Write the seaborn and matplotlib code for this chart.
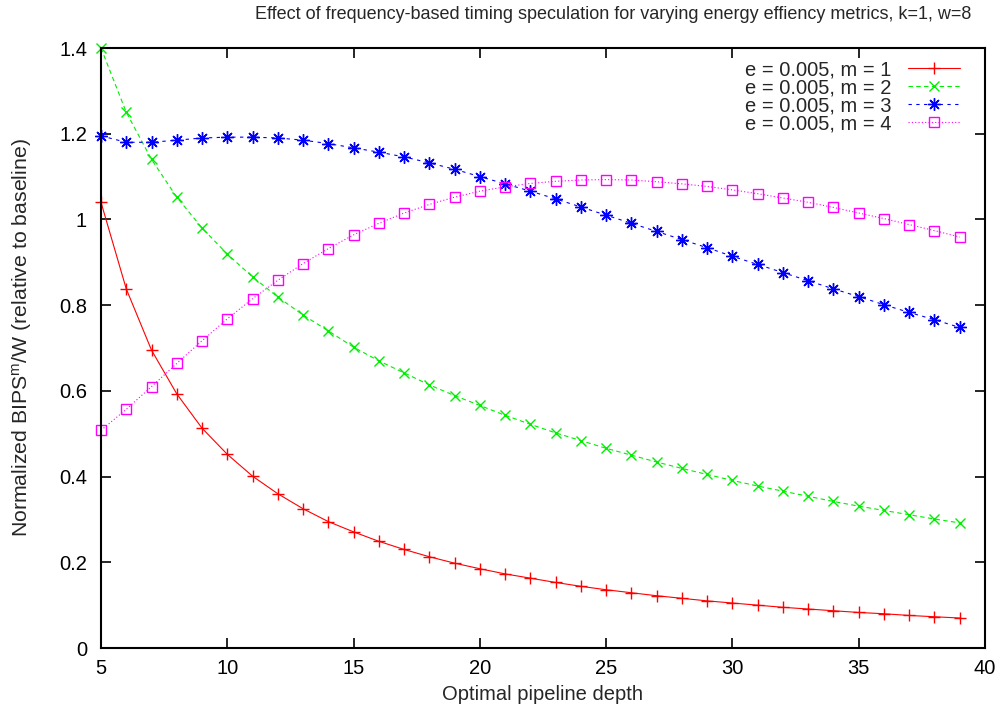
import numpy as np
import pandas as pd
import matplotlib
matplotlib.use("Agg")
import matplotlib.pyplot as plt
import seaborn as sns

# Pipeline depths (x) and normalized BIPS^m/W for each metric
depth = list(range(5, 40))

m1 = [1.040, 0.838, 0.695, 0.593, 0.513, 0.452, 0.401, 0.360, 0.325, 0.295,
      0.271, 0.249, 0.230, 0.213, 0.198, 0.185, 0.173, 0.163, 0.153, 0.144,
      0.136, 0.129, 0.122, 0.116, 0.110, 0.105, 0.100, 0.095, 0.091, 0.087,
      0.083, 0.080, 0.076, 0.073, 0.070]

m2 = [1.400, 1.250, 1.140, 1.052, 0.980, 0.919, 0.866, 0.819, 0.777, 0.740,
      0.702, 0.670, 0.642, 0.614, 0.589, 0.566, 0.543, 0.522, 0.502, 0.484,
      0.466, 0.450, 0.434, 0.419, 0.405, 0.391, 0.378, 0.366, 0.354, 0.342,
      0.331, 0.321, 0.311, 0.301, 0.292]

m3 = [1.195, 1.180, 1.180, 1.185, 1.190, 1.192, 1.192, 1.190, 1.185, 1.177,
      1.167, 1.157, 1.146, 1.132, 1.117, 1.100, 1.083, 1.066, 1.048, 1.029,
      1.010, 0.991, 0.972, 0.953, 0.934, 0.914, 0.895, 0.876, 0.857, 0.838,
      0.820, 0.801, 0.783, 0.766, 0.748]

m4 = [0.508, 0.557, 0.610, 0.664, 0.717, 0.768, 0.815, 0.858, 0.897, 0.932,
      0.964, 0.991, 1.015, 1.035, 1.052, 1.066, 1.076, 1.084, 1.089, 1.092,
      1.093, 1.092, 1.088, 1.083, 1.077, 1.069, 1.060, 1.050, 1.040, 1.028,
      1.015, 1.002, 0.988, 0.974, 0.959]

labels = ["e = 0.005, m = 1", "e = 0.005, m = 2",
          "e = 0.005, m = 3", "e = 0.005, m = 4"]
x_ticks = [5, 10, 15, 20, 25, 30, 35, 40]
y_ticks = [0, 0.2, 0.4, 0.6, 0.8, 1.0, 1.2, 1.4]
y_tick_labels = ["0", "0.2", "0.4", "0.6", "0.8", "1", "1.2", "1.4"]

sns.set_style("ticks")
plt.rcParams["font.family"] = ["Liberation Sans", "DejaVu Sans"]
plt.rcParams["mathtext.fontset"] = "custom"
plt.rcParams["mathtext.rm"] = "Liberation Sans"
plt.rcParams["mathtext.it"] = "Liberation Sans"

FS = 14.5

fig = plt.figure(figsize=(10.0, 7.08), dpi=100)
ax = fig.add_axes([0.101, 0.0847, 0.884, 0.8475])

styles = [
    dict(color="#ff0000", linestyle="-", marker="+", markersize=9),
    dict(color="#00ee00", linestyle=(0, (4, 3)), marker="x", markersize=7.5),
    dict(color="#0000ff", linestyle=(0, (3, 4)), marker=(8, 2, 0), markersize=9),
    dict(color="#ff00ff", linestyle=(0, (1, 2)), marker="s", markersize=7.5, mfc="none"),
]

for vals, lab, st in zip([m1, m2, m3, m4], labels, styles):
    df = pd.DataFrame({"depth": depth, "value": vals})
    sns.lineplot(data=df, x="depth", y="value", ax=ax, label=lab,
                 color=st["color"], linestyle=st["linestyle"], marker=st["marker"],
                 markersize=st["markersize"], markeredgewidth=1.0,
                 markeredgecolor=st["color"],
                 markerfacecolor=st.get("mfc", st["color"]),
                 linewidth=0.8, clip_on=False)

ax.set_xlim(5, 40)
ax.set_ylim(0, 1.4)
ax.set_xticks(x_ticks)
ax.set_yticks(y_ticks)
ax.set_yticklabels(y_tick_labels)
ax.tick_params(direction="in", length=7, width=1.2, top=True, right=True,
               labelsize=FS, colors="black")
ax.tick_params(axis="y", pad=10)
ax.tick_params(axis="x", pad=8)
for sp in ax.spines.values():
    sp.set_visible(True)
    sp.set_linewidth(1.5)
    sp.set_color("black")

ax.set_xlabel("Optimal pipeline depth", fontsize=FS, labelpad=5)
ax.set_ylabel("Normalized BIPS$^{\\mathrm{m}}$/W (relative to baseline)",
              fontsize=15.3, va="center")
ax.yaxis.set_label_coords(-0.089, 0.517)

fig.text(0.613, 0.98,
         "Effect of frequency-based timing speculation for varying energy effiency metrics, k=1, w=8",
         ha="center", va="center", fontsize=13)

leg = ax.legend(loc="upper right", bbox_to_anchor=(0.9785, 0.99),
                frameon=False, markerfirst=False,
                fontsize=FS, handlelength=2.6, borderaxespad=0.0, borderpad=0.3,
                labelspacing=-0.05, handletextpad=0.8)

fig.savefig("out.png", dpi=100)
